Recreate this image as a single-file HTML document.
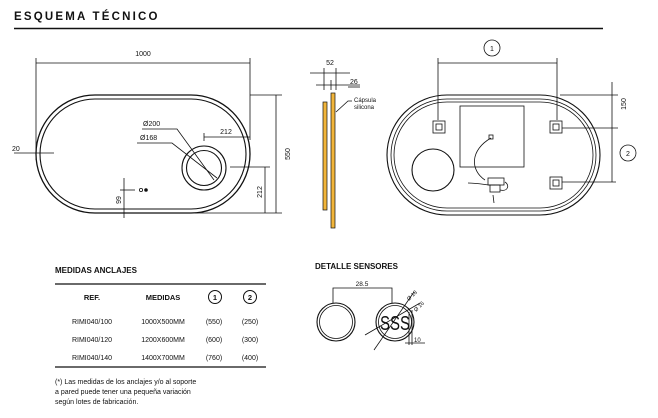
<!DOCTYPE html>
<html><head><meta charset="utf-8"><style>
body{margin:0;background:#fff;width:658px;height:418px;overflow:hidden}
svg{display:block;font-family:"Liberation Sans",sans-serif}
</style></head><body>
<svg width="658" height="418" viewBox="0 0 658 418">
<text x="14" y="20" font-size="11.5" font-weight="bold" letter-spacing="2.2" fill="#111">ESQUEMA TÉCNICO</text>
<line x1="14" y1="28.5" x2="603" y2="28.5" stroke="#111" stroke-width="1.6"/>
<g fill="none" stroke="#111" stroke-width="0.8">
<rect x="36" y="95" width="214" height="118" rx="59" stroke-width="1.3"/>
<rect x="40" y="99" width="206" height="110" rx="55" stroke-width="1.1"/>
<circle cx="204" cy="168" r="22" stroke-width="1.1"/>
<circle cx="204" cy="168" r="17.5" stroke-width="1.1"/>
<line x1="36" y1="58" x2="36" y2="160"/><line x1="250" y1="58" x2="250" y2="140"/>
<line x1="36" y1="63" x2="250" y2="63"/>
<line x1="250" y1="95" x2="282" y2="95"/><line x1="195" y1="213" x2="282" y2="213"/>
<line x1="276" y1="95" x2="276" y2="213"/>
<line x1="230" y1="167" x2="270" y2="167"/><line x1="265" y1="167" x2="265" y2="213"/>
<line x1="204" y1="137" x2="250" y2="137"/><line x1="204" y1="133" x2="204" y2="141"/>
<polyline points="142,129 177,129 214,180"/><polyline points="137,143 172,143 217,178"/>
<line x1="14" y1="153" x2="54" y2="153"/>
<line x1="124" y1="178" x2="124" y2="218"/><line x1="120" y1="190" x2="135" y2="190"/>
<circle cx="141" cy="190" r="1.6"/>
<line x1="310" y1="73" x2="350" y2="73"/><line x1="316" y1="85" x2="360" y2="85"/>
<line x1="324" y1="68" x2="324" y2="90"/><line x1="336" y1="68" x2="336" y2="90"/><line x1="331" y1="80" x2="331" y2="90"/>
<line x1="348" y1="87" x2="360" y2="87"/>
<polyline points="336,112 348,101 352,101"/>
<rect x="387" y="95" width="213" height="120" rx="60" stroke-width="1.1"/>
<rect x="391" y="99" width="205" height="112" rx="56"/>
<rect x="394" y="102" width="199" height="106" rx="53"/>
<rect x="460" y="106" width="64" height="61"/>
<circle cx="433" cy="170" r="21" stroke-width="1.1"/>
<rect x="433" y="121" width="12" height="12"/><rect x="436" y="124" width="6" height="6"/>
<rect x="550" y="121" width="12" height="12"/><rect x="553" y="124" width="6" height="6"/>
<rect x="550" y="177" width="12" height="12"/><rect x="553" y="180" width="6" height="6"/>
<path d="M491 138 C470 150 470 170 485 180 M468 183 C480 183 490 186 495 185 M505 182 C510 185 508 192 500 190 M493 195 L494 203"/>
<rect x="488" y="178" width="16" height="7"/><rect x="490" y="185" width="10" height="7"/>
<rect x="489" y="135" width="4" height="4"/>
<line x1="438" y1="58" x2="438" y2="120"/><line x1="557" y1="58" x2="557" y2="120"/>
<line x1="438" y1="63" x2="557" y2="63"/>
<circle cx="492" cy="48" r="8"/>
<line x1="612" y1="82" x2="612" y2="182"/>
<line x1="560" y1="95" x2="618" y2="95"/><line x1="562" y1="128" x2="618" y2="128"/><line x1="562" y1="182" x2="616" y2="182"/>
<circle cx="628" cy="153" r="8"/>
<circle cx="336" cy="322" r="19" stroke-width="1.1"/><circle cx="336" cy="322" r="16.5"/>
<circle cx="395" cy="322" r="19" stroke-width="1.1"/><circle cx="395" cy="322" r="16.5"/>
<polyline points="333,303 333,288 392,288 392,303"/>
<line x1="374" y1="350" x2="414" y2="292"/><line x1="365" y1="335" x2="420" y2="303"/>
<line x1="412" y1="310" x2="412" y2="345"/><line x1="409" y1="312" x2="409" y2="345"/>
<line x1="405" y1="343" x2="425" y2="343"/>
</g>
<circle cx="146" cy="190" r="1.8" fill="#111"/>
<rect x="323" y="102" width="4" height="108" fill="#f2b53a" stroke="#111" stroke-width="0.7"/>
<rect x="331" y="93" width="4" height="135" fill="#f2b53a" stroke="#111" stroke-width="0.7"/>
<g font-size="7" fill="#111">
<text x="143" y="56" text-anchor="middle">1000</text>
<text x="290" y="154" transform="rotate(-90 290 154)" text-anchor="middle">550</text>
<text x="262" y="192" transform="rotate(-90 262 192)" text-anchor="middle">212</text>
<text x="226" y="134" text-anchor="middle">212</text>
<text x="143" y="126">Ø200</text><text x="140" y="140">Ø168</text>
<text x="12" y="151">20</text>
<text x="121" y="200" transform="rotate(-90 121 200)" text-anchor="middle">99</text>
<text x="330" y="65" text-anchor="middle">52</text><text x="350" y="84">26</text>
<text x="354" y="102" font-size="6">Cápsula</text><text x="354" y="109" font-size="6">silicona</text>
<text x="492" y="51" text-anchor="middle">1</text><text x="628" y="156" text-anchor="middle">2</text>
<text x="626" y="104" transform="rotate(-90 626 104)" text-anchor="middle">150</text>
<text x="362" y="286" text-anchor="middle" font-size="6.5">28.5</text>
<text x="409" y="301" font-size="5.5" transform="rotate(-45 409 301)">Ø 18</text>
<text x="416" y="312" font-size="5.5" transform="rotate(-45 416 312)">Ø 16</text>
<text x="414" y="342" font-size="6">10</text>
</g>
<text x="395" y="330" font-size="20" text-anchor="middle" fill="#111" textLength="30" lengthAdjust="spacingAndGlyphs">SSS</text>
<g fill="#111">
<text x="55" y="273" font-size="8" font-weight="bold">MEDIDAS ANCLAJES</text>
<line x1="55" y1="284" x2="266" y2="284" stroke="#111" stroke-width="1.2"/>
<g font-size="7.5" font-weight="bold" text-anchor="middle">
<text x="92" y="300">REF.</text><text x="163" y="300">MEDIDAS</text>
<text x="215" y="300">1</text><text x="250" y="300">2</text></g>
<circle cx="215" cy="297" r="6.5" fill="none" stroke="#111" stroke-width="1"/>
<circle cx="250" cy="297" r="6.5" fill="none" stroke="#111" stroke-width="1"/>
<g font-size="7" text-anchor="middle">
<text x="92" y="324">RIMI040/100</text><text x="163" y="324">1000X500MM</text><text x="214" y="324">(550)</text><text x="250" y="324">(250)</text>
<text x="92" y="342">RIMI040/120</text><text x="163" y="342">1200X600MM</text><text x="214" y="342">(600)</text><text x="250" y="342">(300)</text>
<text x="92" y="360">RIMI040/140</text><text x="163" y="360">1400X700MM</text><text x="214" y="360">(760)</text><text x="250" y="360">(400)</text>
</g>
<line x1="55" y1="367" x2="266" y2="367" stroke="#111" stroke-width="1.2"/>
<g font-size="7"><text x="55" y="384">(*) Las medidas de los anclajes y/o al soporte</text>
<text x="55" y="394">a pared puede tener una pequeña variación</text>
<text x="55" y="404">según lotes de fabricación.</text></g>
<text x="315" y="269" font-size="8" font-weight="bold">DETALLE SENSORES</text>
</g>
</svg>
</body></html>
